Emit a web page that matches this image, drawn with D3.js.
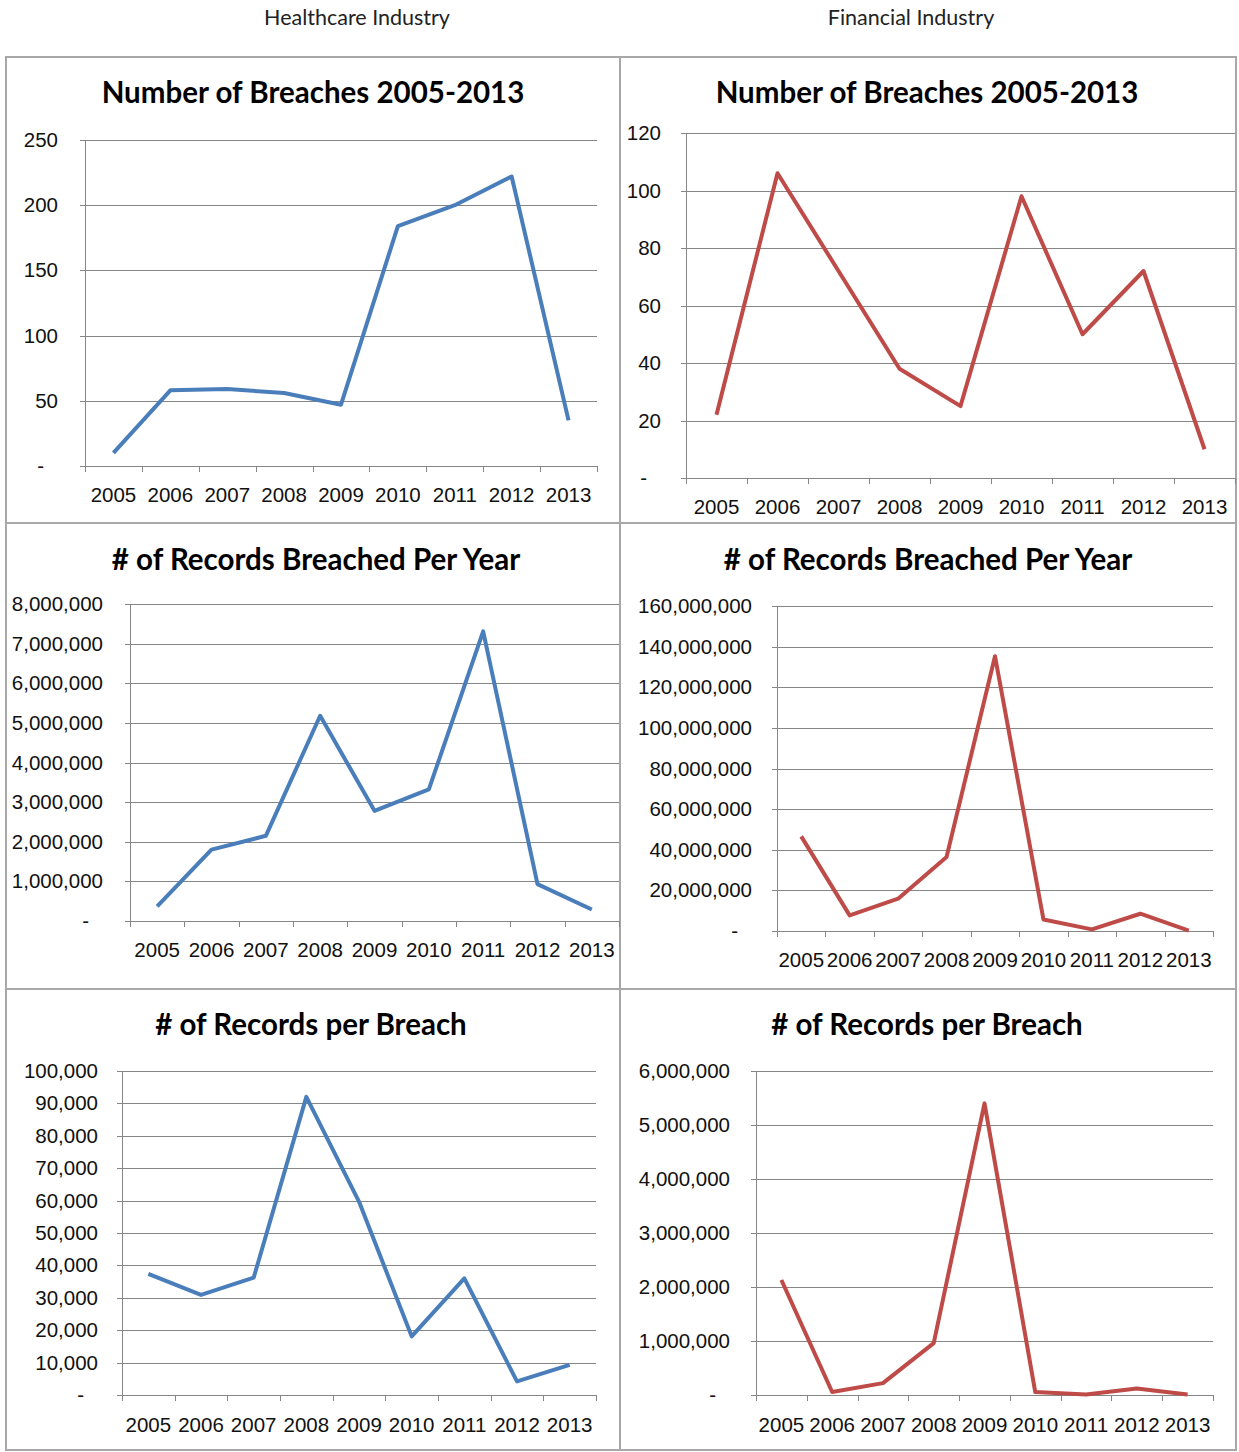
<!DOCTYPE html>
<html>
<head>
<meta charset="utf-8">
<script src="https://cdn.jsdelivr.net/npm/d3@7"></script>
<style>
  body { margin: 0; background: #fff; }
  svg { font-family: Lato, "Open Sans", sans-serif; }
  .grid line { stroke: #868686; stroke-width: 1; shape-rendering: crispEdges; }
  .axis path, .axis line { stroke: #868686; shape-rendering: crispEdges; }
  .axis text { fill: #111; font-size: 20.5px; }
  .title { font-weight: bold; font-size: 29.5px; fill: #000; }
  .header { font-size: 21.5px; fill: #222; }
</style>
</head>
<body>
<script>
const width = 1239;
const height = 1452;

const years = ['2005', '2006', '2007', '2008', '2009', '2010', '2011', '2012', '2013'];

// healthcare
const healthBreaches = [10, 58, 59, 56, 47, 184, 200, 222, 35];
const healthRecords = [370000, 1800000, 2150000, 5180000, 2780000, 3320000, 7310000, 930000, 290000];
const healthPerBreach = [37400, 30900, 36200, 92000, 59700, 18100, 36000, 4200, 9300];

// financial
const finBreaches = [22, 106, 72, 38, 25, 98, 50, 72, 10];
const finRecords = [46600000, 7700000, 15900000, 36400000, 135300000, 5700000, 800000, 8500000, 200000];
const finPerBreach = [2130000, 55000, 220000, 960000, 5400000, 55000, 10000, 120000, 10000];

// y tick values
const ticksHealthBreaches = [0, 50, 100, 150, 200, 250];
const ticksFinBreaches = [0, 20, 40, 60, 80, 100, 120];
const ticksHealthRecords = [0, 1e6, 2e6, 3e6, 4e6, 5e6, 6e6, 7e6, 8e6];
const ticksFinRecords = [0, 2e7, 4e7, 6e7, 8e7, 1e8, 1.2e8, 1.4e8, 1.6e8];
const ticksHealthPerBreach = [0, 1e4, 2e4, 3e4, 4e4, 5e4, 6e4, 7e4, 8e4, 9e4, 1e5];
const ticksFinPerBreach = [0, 1e6, 2e6, 3e6, 4e6, 5e6, 6e6];

const headers = ['Healthcare Industry', 'Financial Industry'];
const titles = ['Number of Breaches 2005-2013', '# of Records Breached Per Year', '# of Records per Breach'];

const blue = '#4a7ebb';
const red = '#be4b48';

// one entry per panel; layout in pixels
const panels = [
  { values: healthBreaches, ticks: ticksHealthBreaches, color: blue, title: titles[0],
    x0: 85, x1: 597, top: 140, bottom: 466, labelRight: 58, titleX: 313, titleY: 93, xLabelY: 495 },
  { values: finBreaches, ticks: ticksFinBreaches, color: red, title: titles[0],
    x0: 686, x1: 1235, top: 133, bottom: 478, labelRight: 661, titleX: 927, titleY: 93, xLabelY: 507 },
  { values: healthRecords, ticks: ticksHealthRecords, color: blue, title: titles[1],
    x0: 130, x1: 619, top: 604, bottom: 921, labelRight: 103, titleX: 316, titleY: 560, xLabelY: 950 },
  { values: finRecords, ticks: ticksFinRecords, color: red, title: titles[1],
    x0: 777, x1: 1213, top: 606, bottom: 931, labelRight: 752, titleX: 928, titleY: 560, xLabelY: 960 },
  { values: healthPerBreach, ticks: ticksHealthPerBreach, color: blue, title: titles[2],
    x0: 122, x1: 596, top: 1071, bottom: 1395, labelRight: 98, titleX: 311, titleY: 1025, xLabelY: 1425 },
  { values: finPerBreach, ticks: ticksFinPerBreach, color: red, title: titles[2],
    x0: 756, x1: 1213, top: 1071, bottom: 1395, labelRight: 730, titleX: 927, titleY: 1025, xLabelY: 1425 }
];

const svg = d3.select('body')
  .append('svg')
  .attr('width', width)
  .attr('height', height);

// column headers
svg.selectAll('text.header')
  .data(headers)
  .enter()
  .append('text')
  .attr('class', 'header')
  .attr('x', (d, i) => i === 0 ? 357 : 911)
  .attr('y', 17)
  .attr('dy', '0.35em')
  .attr('text-anchor', 'middle')
  .text(d => d);

// frame
const frame = svg.append('g')
  .attr('fill', 'none')
  .attr('stroke', '#a8a8a8')
  .attr('stroke-width', 2);
frame.append('rect').attr('x', 6).attr('y', 57).attr('width', 1230).attr('height', 1393);
frame.append('line').attr('x1', 620).attr('x2', 620).attr('y1', 57).attr('y2', 1450);
frame.append('line').attr('x1', 6).attr('x2', 1236).attr('y1', 523).attr('y2', 523);
frame.append('line').attr('x1', 6).attr('x2', 1236).attr('y1', 989).attr('y2', 989);

const fmt = d3.format(',');

panels.forEach(p => {
  const g = svg.append('g');

  const x = d3.scaleBand()
    .domain(years)
    .range([p.x0, p.x1]);

  const y = d3.scaleLinear()
    .domain([0, d3.max(p.ticks)])
    .range([p.bottom, p.top]);

  // title
  g.append('text')
    .attr('class', 'title')
    .attr('x', p.titleX)
    .attr('y', p.titleY)
    .attr('dy', '0.35em')
    .attr('text-anchor', 'middle')
    .text(p.title);

  // gridlines
  g.append('g')
    .attr('class', 'grid')
    .selectAll('line')
    .data(p.ticks)
    .enter()
    .append('line')
    .attr('x1', p.x0)
    .attr('x2', p.x1)
    .attr('y1', d => Math.round(y(d)) + 0.5)
    .attr('y2', d => Math.round(y(d)) + 0.5);

  // y axis
  const yAxis = d3.axisLeft(y)
    .tickValues(p.ticks)
    .tickSize(5)
    .tickPadding(p.x0 - p.labelRight - 5)
    .tickFormat(d => d === 0 ? '-' : fmt(d));

  const ya = g.append('g')
    .attr('class', 'axis')
    .attr('transform', `translate(${p.x0}, 0)`)
    .call(yAxis);
  ya.select('.domain').attr('d', `M0,${p.top}V${p.bottom}`);
  ya.selectAll('.tick text')
    .filter(d => d === 0)
    .attr('dx', -14);

  // x axis: boundary ticks
  const xb = d3.scaleLinear()
    .domain([0, years.length])
    .range([p.x0, p.x1]);

  const xTicks = d3.axisBottom(xb)
    .tickValues(d3.range(years.length + 1))
    .tickSize(6)
    .tickFormat('');

  const xa = g.append('g')
    .attr('class', 'axis')
    .attr('transform', `translate(0, ${p.bottom})`)
    .call(xTicks);
  xa.select('.domain').attr('d', `M${p.x0},0H${p.x1}`);

  // x axis: labels at band centres
  const xLabels = d3.axisBottom(x)
    .tickSize(0)
    .tickPadding(0);

  const xl = g.append('g')
    .attr('class', 'axis')
    .attr('transform', `translate(0, ${p.xLabelY})`)
    .call(xLabels);
  xl.select('.domain').remove();
  xl.selectAll('.tick text').attr('dy', '0.35em');

  // line
  const line = d3.line()
    .x((d, i) => x(years[i]) + x.bandwidth() / 2)
    .y(d => y(d));

  g.append('path')
    .datum(p.values)
    .attr('fill', 'none')
    .attr('stroke', p.color)
    .attr('stroke-width', 4)
    .attr('stroke-linejoin', 'round')
    .attr('d', line);
});
</script>
</body>
</html>
